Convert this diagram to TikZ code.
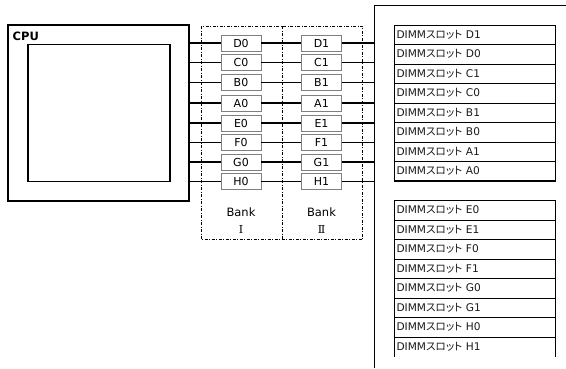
\documentclass[tikz,border=0pt]{standalone}
\usepackage{fontspec}
\setmainfont{DejaVu Sans}
\newfontfamily\jpfont[RawFeature=+palt]{Noto Sans CJK JP}
\newfontfamily\numfont{DejaVu Serif}
\usetikzlibrary{positioning}
\definecolor{inkline}{HTML}{000000}
\definecolor{cellline}{HTML}{7F7F7F}
\definecolor{slottext}{HTML}{1A1A1A}
\newcommand{\slot}[1]{DIMM{\jpfont スロット} #1}

\begin{document}
\begin{tikzpicture}[
  x=1pt, y=-1pt,
  font=\fontsize{11}{13}\selectfont,
  cpubox/.style={draw=inkline, line width=1.2pt, inner sep=0pt, outer sep=0pt},
  bankcell/.style={draw=cellline, line width=0.8pt, fill=white, inner sep=0pt,
                   minimum width=40pt, minimum height=16pt, text=inkline},
  slotrow/.style={draw=inkline, line width=0.8pt, inner sep=2pt, outer sep=0pt,
                  minimum width=161pt, minimum height=19.5pt, text width=157pt,
                  align=left, text=slottext, font=\fontsize{10.6}{13}\selectfont},
  frame/.style={draw=inkline, line width=0.6pt, dash pattern=on 3pt off 1.5pt on 1pt off 1.5pt},
  bus/.style={draw=inkline, line width=1.3pt},
  edge/.style={draw=inkline, line width=1.5pt},
  blab/.style={inner sep=1pt, text=inkline},
]
\useasboundingbox (0,0) rectangle (566,368);

% ---- CPU ----
\node[cpubox, minimum width=181pt, minimum height=176pt](cpu) at (98.5,113) {};
\node[cpubox, minimum width=142pt, minimum height=137pt](die) at (99,113) {};
\node[blab, anchor=base west, font=\fontsize{11.5}{13}\selectfont\bfseries](cpulab) at (11.5,40) {CPU};

% ---- bank frame ----
\draw[frame] (201,26) rectangle (362.5,239.5);
\draw[frame] (282,26) -- (282,239.5);

% ---- bank I ----
\node[bankcell](d0) at (241,43)   {D0};
\node[bankcell](c0) at (241,62.5) {C0};
\node[bankcell](b0) at (241,82.5) {B0};
\node[bankcell](a0) at (241,103)  {A0};
\node[bankcell](e0) at (241,123)  {E0};
\node[bankcell](f0) at (241,142.5){F0};
\node[bankcell](g0) at (241,162)  {G0};
\node[bankcell](h0) at (241,181.5){H0};

% ---- bank II ----
\node[bankcell](d1) at (321.5,43)   {D1};
\node[bankcell](c1) at (321.5,62.5) {C1};
\node[bankcell](b1) at (321.5,82.5) {B1};
\node[bankcell](a1) at (321.5,103)  {A1};
\node[bankcell](e1) at (321.5,123)  {E1};
\node[bankcell](f1) at (321.5,142.5){F1};
\node[bankcell](g1) at (321.5,162)  {G1};
\node[bankcell](h1) at (321.5,181.5){H1};

\node[blab, font=\fontsize{11.5}{13}\selectfont](bk1) at (241,212)   {Bank};
\node[blab, font=\fontsize{11.5}{13}\selectfont](bk2) at (321.5,212) {Bank};
\node[blab](bn1) at (241,229)   {\numfont Ⅰ};
\node[blab](bn2) at (321.5,229) {\numfont Ⅱ};

% ---- board ----
\coordinate (brd) at (374,5);
\draw[draw=inkline, line width=0.9pt] (566,5) -- (brd) -- (374,368);

% ---- DIMM slots ----
\node[slotrow, anchor=north west](s1) at (394.5,25) {\slot{D1}};
\node[slotrow, below=0pt of s1](s2) {\slot{D0}};
\node[slotrow, below=0pt of s2](s3) {\slot{C1}};
\node[slotrow, below=0pt of s3](s4) {\slot{C0}};
\node[slotrow, below=0pt of s4](s5) {\slot{B1}};
\node[slotrow, below=0pt of s5](s6) {\slot{B0}};
\node[slotrow, below=0pt of s6](s7) {\slot{A1}};
\node[slotrow, below=0pt of s7](s8) {\slot{A0}};
\draw[edge] (s1.north east) -- (s8.south east) -- (s8.south west);

\node[slotrow, anchor=north west](t1) at (394.5,200.5) {\slot{E0}};
\node[slotrow, below=0pt of t1](t2) {\slot{E1}};
\node[slotrow, below=0pt of t2](t3) {\slot{F0}};
\node[slotrow, below=0pt of t3](t4) {\slot{F1}};
\node[slotrow, below=0pt of t4](t5) {\slot{G0}};
\node[slotrow, below=0pt of t5](t6) {\slot{G1}};
\node[slotrow, below=0pt of t6](t7) {\slot{H0}};
\node[slotrow, below=0pt of t7, draw=none](t8) {\slot{H1}};
\draw[draw=inkline, line width=0.8pt] (t8.north west) -- (t8.south west);
\draw[edge] (t1.north east) -- (t8.south east);

% ---- buses ----
\foreach \bl/\br in {d0/d1,c0/c1,b0/b1,a0/a1,e0/e1,f0/f1,g0/g1,h0/h1}{
  \draw[bus] (\bl -| cpu.east) -- (\bl);
  \draw[bus] (\bl) -- (\br);
  \draw[bus] (\br) -- (\br -| brd);
}

\end{tikzpicture}
\end{document}
